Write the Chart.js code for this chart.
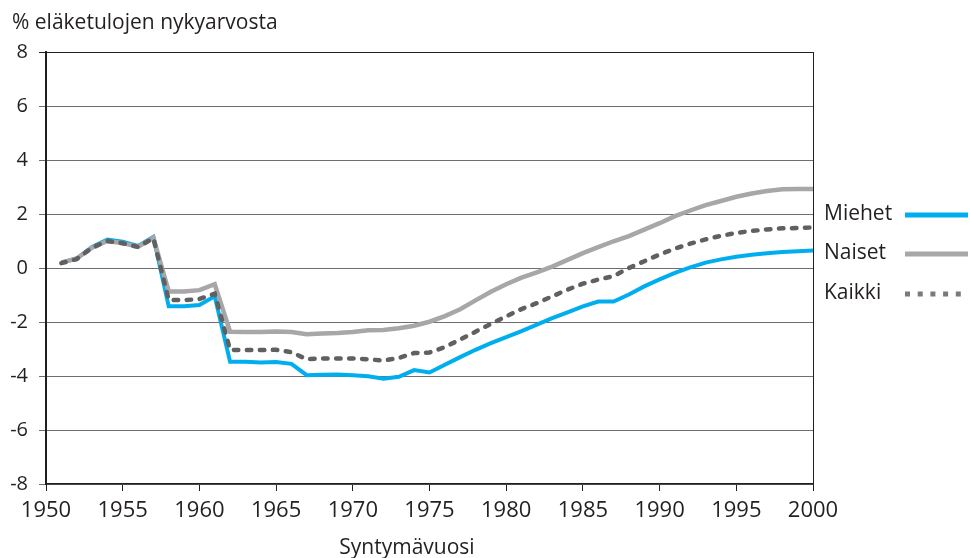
<!DOCTYPE html>
<html>
<head>
<meta charset="utf-8">
<script src="https://cdn.jsdelivr.net/npm/chart.js@4"></script>
<style>
  html, body { margin: 0; padding: 0; background: #fff; }
  #wrap { width: 970px; height: 558px; position: relative; }
</style>
</head>
<body>
<div id="wrap"><canvas id="chart"></canvas></div>
<script>
// Syntymävuodet ja sarjat (% eläketulojen nykyarvosta)
const years = [];
for (let y = 1951; y <= 2000; y++) years.push(y);

const miehet = [
  0.2, 0.35, 0.78, 1.05, 0.97, 0.82, 1.15, -1.42, -1.42, -1.37,
  -1.05, -3.47, -3.47, -3.5, -3.48, -3.55, -3.97, -3.95, -3.94, -3.97,
  -4.01, -4.1, -4.03, -3.78, -3.87, -3.58, -3.3, -3.03, -2.78, -2.56,
  -2.34, -2.1, -1.86, -1.64, -1.42, -1.24, -1.24, -0.98, -0.68, -0.42,
  -0.18, 0.02, 0.2, 0.32, 0.42, 0.49, 0.55, 0.59, 0.62, 0.65
];
const naiset = [
  0.2, 0.35, 0.75, 1.0, 0.92, 0.78, 1.12, -0.87, -0.87, -0.82,
  -0.6, -2.36, -2.37, -2.37, -2.35, -2.37, -2.45, -2.43, -2.41, -2.37,
  -2.31, -2.3, -2.23, -2.14, -1.99, -1.78, -1.53, -1.2, -0.88, -0.6,
  -0.36, -0.16, 0.05, 0.3, 0.55, 0.77, 0.99, 1.18, 1.42, 1.66,
  1.92, 2.13, 2.33, 2.48, 2.64, 2.76, 2.85, 2.92, 2.93, 2.93
];
const kaikki = [
  0.18, 0.33, 0.75, 1.0, 0.92, 0.78, 1.1, -1.18, -1.19, -1.15,
  -0.95, -3.03, -3.04, -3.04, -3.03, -3.12, -3.38, -3.35, -3.35, -3.35,
  -3.38, -3.43, -3.33, -3.15, -3.13, -2.93, -2.65, -2.36, -2.07, -1.79,
  -1.52, -1.3, -1.05, -0.8, -0.58, -0.43, -0.3, 0.0, 0.25, 0.5,
  0.72, 0.9, 1.06, 1.19, 1.3, 1.37, 1.43, 1.47, 1.48, 1.5
];
const seriesLabels = ["Miehet", "Naiset", "Kaikki"];
const xTicks = [1950, 1955, 1960, 1965, 1970, 1975, 1980, 1985, 1990, 1995, 2000];
const yTicks = [-8, -6, -4, -2, 0, 2, 4, 6, 8];

const FONT = "'Open Sans', sans-serif";
const TEXT = "#231f20";

const toPoints = (vals) => vals.map((v, i) => ({ x: years[i], y: v }));

// Selite oikealla: teksti ensin, viivanäyte perässä
const legendPlugin = {
  id: "sideLegend",
  afterDraw(chart) {
    const ctx = chart.ctx;
    const rows = [
      { label: seriesLabels[0], y: 215, color: "#00aeef", width: 5, dash: [] },
      { label: seriesLabels[1], y: 254, color: "#a7a7a9", width: 5, dash: [] },
      { label: seriesLabels[2], y: 294, color: "#7a7a7a", width: 5, dash: [5, 7.7] }
    ];
    ctx.save();
    ctx.font = "21px " + FONT;
    ctx.fillStyle = TEXT;
    ctx.textBaseline = "middle";
    rows.forEach((r) => {
      ctx.fillText(r.label, 824, r.y - 1);
      ctx.beginPath();
      ctx.setLineDash(r.dash);
      ctx.lineCap = "butt";
      ctx.strokeStyle = r.color;
      ctx.lineWidth = r.width;
      ctx.moveTo(905, r.y);
      ctx.lineTo(968, r.y);
      ctx.stroke();
    });
    ctx.setLineDash([]);
    // otsikot
    ctx.textBaseline = "alphabetic";
    ctx.font = "21px " + FONT;
    ctx.fillText("% eläketulojen nykyarvosta", 12, 29);
    ctx.textAlign = "center";
    ctx.fillText("Syntymävuosi", 407, 554);
    ctx.restore();
  }
};

const ctx = document.getElementById("chart").getContext("2d");

new Chart(ctx, {
  type: "line",
  data: {
    datasets: [
      {
        label: seriesLabels[0],
        data: toPoints(miehet),
        borderColor: "#00aeef",
        borderWidth: 4,
        pointRadius: 0,
        order: 2
      },
      {
        label: seriesLabels[1],
        data: toPoints(naiset),
        borderColor: "#a7a7a9",
        borderWidth: 4.5,
        pointRadius: 0,
        order: 1
      },
      {
        label: seriesLabels[2],
        data: toPoints(kaikki),
        borderColor: "#606060",
        borderWidth: 4.5,
        borderDash: [4.5, 8.5],
        borderCapStyle: "round",
        pointRadius: 0,
        order: 0
      }
    ]
  },
  options: {
    responsive: true,
    maintainAspectRatio: false,
    animation: false,
    layout: { padding: { top: 52, right: 157, left: 0, bottom: 0 } },
    plugins: {
      legend: { display: false },
      tooltip: { enabled: false }
    },
    scales: {
      x: {
        type: "linear",
        min: 1950,
        max: 2000,
        afterBuildTicks: (scale) => { scale.ticks = xTicks.map((v) => ({ value: v })); },
        afterFit: (scale) => { scale.height = 74; },
        border: { color: "#231f20", width: 1.5 },
        grid: { drawOnChartArea: false, drawTicks: true, tickLength: 7, color: "#231f20" },
        ticks: {
          color: TEXT,
          padding: 7,
          maxRotation: 0,
          font: { size: 22, family: FONT },
          callback: (v) => String(v)
        }
      },
      y: {
        min: -8,
        max: 8,
        afterBuildTicks: (scale) => { scale.ticks = yTicks.map((v) => ({ value: v })); },
        afterFit: (scale) => { scale.width = 46; },
        border: { color: "#231f20", width: 2 },
        grid: {
          drawTicks: true,
          tickLength: 7,
          color: (c) => (c.tick && c.tick.value === 8 ? "#231f20" : "#6d6e71"),
          lineWidth: 1
        },
        ticks: {
          color: TEXT,
          padding: 11,
          font: { size: 20, family: FONT }
        }
      },
      yRight: {
        position: "right",
        min: -8,
        max: 8,
        afterFit: (scale) => { scale.width = 0; },
        border: { color: "#231f20", width: 1 },
        grid: { drawOnChartArea: false, drawTicks: false },
        ticks: { display: false }
      }
    }
  },
  plugins: [legendPlugin]
});
</script>
</body>
</html>
